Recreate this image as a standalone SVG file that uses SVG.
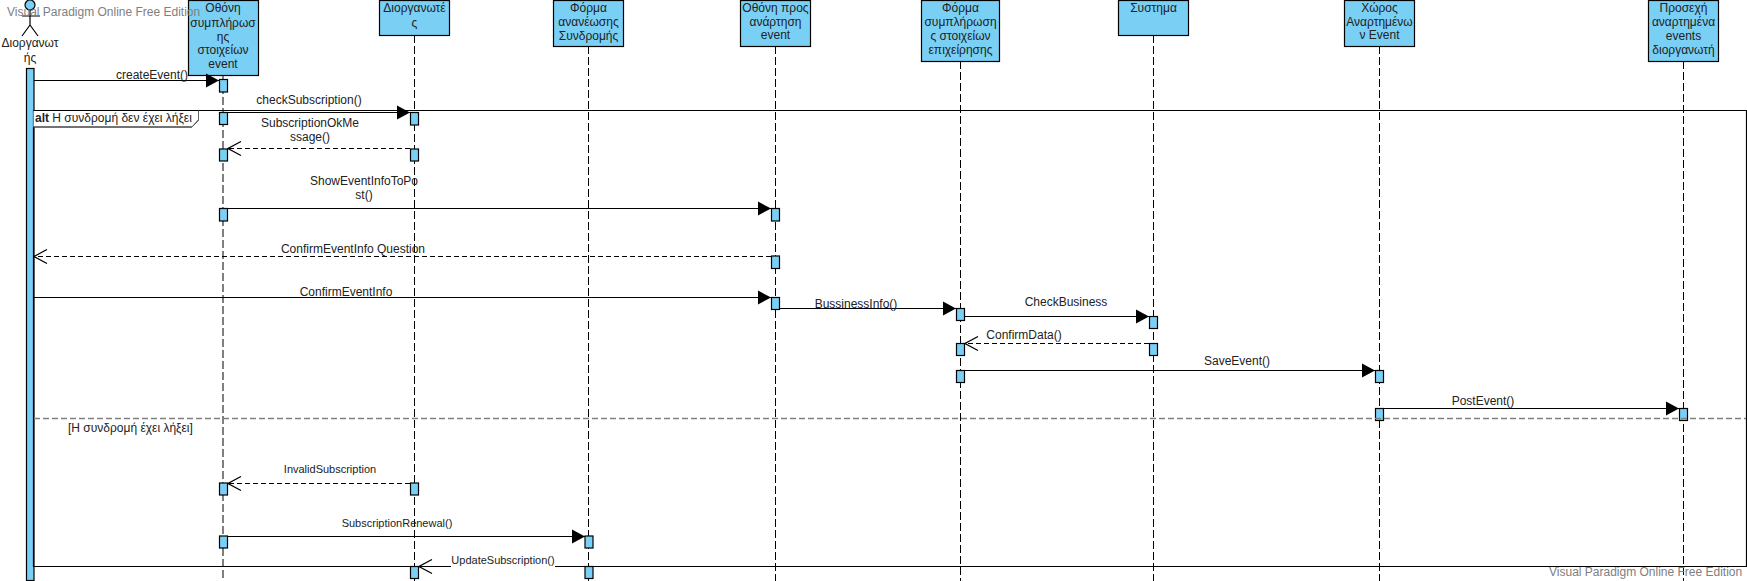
<svg xmlns="http://www.w3.org/2000/svg" width="1747" height="581" viewBox="0 0 1747 581">
<style>
text{font-family:"Liberation Sans",Arial,sans-serif;font-size:12px;fill:#222;text-anchor:middle}
.box{fill:#7acff5;stroke:#000;stroke-width:1.2}
.life{stroke:#000;stroke-width:1;stroke-dasharray:8 3;fill:none}
.msg{stroke:#000;stroke-width:1.2;fill:none}
.ret{stroke:#000;stroke-width:1.2;stroke-dasharray:5 3;fill:none}
.frame{stroke:#000;stroke-width:1.2;fill:none}
.small{font-size:11px}
.wm{fill:#808080;font-size:12px;text-anchor:start}
</style>
<defs>
<marker id="fill" markerUnits="userSpaceOnUse" markerWidth="15" markerHeight="16" refX="14" refY="8" orient="auto"><path d="M1 1L14 8L1 15Z" fill="#000"/></marker>
<marker id="open" markerUnits="userSpaceOnUse" markerWidth="15" markerHeight="16" refX="14" refY="8" orient="auto"><path d="M1 1L14 8L1 15" fill="none" stroke="#000" stroke-width="1.2"/></marker>
</defs>
<rect width="1747" height="581" fill="#fff"/>

<g id="actor">
<circle cx="30" cy="5" r="5" class="box"/>
<path d="M30 10V25M22 16H40M30 25L22 36M30 25L38 36" class="frame"/>
<text x="30" y="47">Διοργανωτ</text>
<text x="30" y="62">ής</text>
<path d="M30 68V578" class="life"/>
<rect x="26.5" y="68.5" width="7.5" height="512" class="box"/>
</g>

<g id="screen-event">
<path d="M223 75V578" class="life"/>
<rect x="188.5" y="0.5" width="70" height="75" class="box"/>
<text x="223" y="12">Οθόνη</text><text x="223" y="27">συμπλήρωσ</text><text x="223" y="41">ης</text><text x="223" y="54">στοιχείων</text><text x="223" y="68">event</text>
<rect x="219.5" y="79.5" width="8" height="12.5" class="box"/>
<rect x="219.5" y="112.5" width="8" height="12" class="box"/>
<rect x="219.5" y="149" width="8" height="12" class="box"/>
<rect x="219.5" y="208.5" width="8" height="12.5" class="box"/>
<rect x="219.5" y="483" width="8" height="12" class="box"/>
<rect x="219.5" y="536" width="8" height="12" class="box"/>
</g>

<g id="organizers">
<path d="M414.5 35V581" class="life"/>
<rect x="379.5" y="0.5" width="70" height="35" class="box"/>
<text x="414.5" y="12">Διοργανωτέ</text><text x="414.5" y="27">ς</text>
<rect x="410.5" y="112.5" width="8" height="12.5" class="box"/>
<rect x="410.5" y="149" width="8" height="12" class="box"/>
<rect x="410.5" y="483" width="8" height="12" class="box"/>
<rect x="410.5" y="566.5" width="8" height="12" class="box"/>
</g>

<g id="renewal-form">
<path d="M588.5 46V581" class="life"/>
<rect x="553.5" y="0.5" width="70" height="46" class="box"/>
<text x="588.5" y="12">Φόρμα</text><text x="588.5" y="26">ανανέωσης</text><text x="588.5" y="40">Συνδρομής</text>
<rect x="585" y="536" width="8" height="12" class="box"/>
<rect x="585" y="566.5" width="8" height="12" class="box"/>
</g>

<g id="post-screen">
<path d="M775.5 46V581" class="life"/>
<rect x="740.5" y="0.5" width="70" height="46" class="box"/>
<text x="775.5" y="12">Οθόνη προς</text><text x="775.5" y="26">ανάρτηση</text><text x="775.5" y="39">event</text>
<rect x="771.5" y="208.5" width="8" height="12.5" class="box"/>
<rect x="771.5" y="256" width="8" height="12.5" class="box"/>
<rect x="771.5" y="297.5" width="8" height="12" class="box"/>
</g>

<g id="business-form">
<path d="M960.5 61V581" class="life"/>
<rect x="921.5" y="0.5" width="78" height="61" class="box"/>
<text x="960.5" y="12">Φόρμα</text><text x="960.5" y="26">συμπλήρωση</text><text x="960.5" y="40">ς στοιχείων</text><text x="960.5" y="54">επιχείρησης</text>
<rect x="956.5" y="308.5" width="8" height="12" class="box"/>
<rect x="956.5" y="343.5" width="8" height="12" class="box"/>
<rect x="956.5" y="370.5" width="8" height="12" class="box"/>
</g>

<g id="system">
<path d="M1153.5 35V581" class="life"/>
<rect x="1118.5" y="0.5" width="70" height="35" class="box"/>
<text x="1153.5" y="12">Συστημα</text>
<rect x="1149.5" y="316.5" width="8" height="12" class="box"/>
<rect x="1149.5" y="343.5" width="8" height="12" class="box"/>
</g>

<g id="posted-area">
<path d="M1379.5 46V581" class="life"/>
<rect x="1344.5" y="0.5" width="70" height="46" class="box"/>
<text x="1379.5" y="12">Χώρος</text><text x="1379.5" y="26">Αναρτημένω</text><text x="1379.5" y="39">ν Event</text>
<rect x="1375.5" y="370.5" width="8" height="12" class="box"/>
<rect x="1375.5" y="408.5" width="8" height="12" class="box"/>
</g>

<g id="organizer-events">
<path d="M1683.5 61V581" class="life"/>
<rect x="1648.5" y="0.5" width="70" height="61" class="box"/>
<text x="1683.5" y="12">Προσεχή</text><text x="1683.5" y="26">αναρτημένα</text><text x="1683.5" y="40">events</text><text x="1683.5" y="54">διοργανωτή</text>
<rect x="1679.5" y="408.5" width="8" height="12" class="box"/>
</g>

<g id="alt-frame">
<path d="M33.5 110.5H1746.5V566.5H33.5Z" class="frame"/>
<path d="M33.5 110.5H198.5V120L192 127H33.5" fill="#fff" stroke="#000" stroke-width="1"/>
<path d="M198.5 110.5V120L192 127H33.5" fill="none" stroke="#666" stroke-width="1"/>
<text x="35" y="122" style="text-anchor:start"><tspan font-weight="bold">alt</tspan> Η συνδρομή δεν έχει λήξει</text>
<path d="M34 418.5H1746" fill="none" stroke="#808080" stroke-width="1.3" stroke-dasharray="6 3"/>
<text x="68" y="432" style="text-anchor:start">[Η συνδρομή έχει λήξει]</text>
</g>

<g id="connectors">
<path d="M34 80.5H219" class="msg" marker-end="url(#fill)"/>
<text x="152" y="79">createEvent()</text>
<path d="M223 112.5H410" class="msg" marker-end="url(#fill)"/>
<text x="309" y="104">checkSubscription()</text>
<path d="M410 148.5H228" class="ret" marker-end="url(#open)"/>
<text x="310" y="127">SubscriptionOkMe</text><text x="310" y="141">ssage()</text>
<path d="M227 208.5H771" class="msg" marker-end="url(#fill)"/>
<text x="364" y="185">ShowEventInfoToPo</text><text x="364" y="199">st()</text>
<path d="M771 256.5H34" class="ret" marker-end="url(#open)"/>
<text x="353" y="253">ConfirmEventInfo Question</text>
<path d="M34 297.5H771" class="msg" marker-end="url(#fill)"/>
<text x="346" y="296">ConfirmEventInfo</text>
<path d="M779 308.5H956" class="msg" marker-end="url(#fill)"/>
<text x="856" y="308">BussinessInfo()</text>
<path d="M964 316.5H1149" class="msg" marker-end="url(#fill)"/>
<text x="1066" y="306">CheckBusiness</text>
<path d="M1149 343.5H965" class="ret" marker-end="url(#open)"/>
<text x="1024" y="339">ConfirmData()</text>
<path d="M964 370.5H1375" class="msg" marker-end="url(#fill)"/>
<text x="1237" y="365">SaveEvent()</text>
<path d="M1383 408.5H1679" class="msg" marker-end="url(#fill)"/>
<text x="1483" y="405">PostEvent()</text>
<path d="M410 483.5H228" class="ret" marker-end="url(#open)"/>
<text x="330" y="473" class="small">InvalidSubscription</text>
<path d="M227 536.5H585" class="msg" marker-end="url(#fill)"/>
<text x="397" y="527" class="small">SubscriptionRenewal()</text>
<path d="M585 566.5H419" class="msg" marker-end="url(#open)"/>
<rect x="451" y="558" width="104" height="12" fill="#fff"/>
<text x="503" y="564" class="small">UpdateSubscription()</text>
</g>

<g id="watermarks">
<text x="7" y="16" class="wm">Visual Paradigm Online Free Edition</text>
<text x="1549" y="576" class="wm">Visual Paradigm Online Free Edition</text>
</g>
</svg>
